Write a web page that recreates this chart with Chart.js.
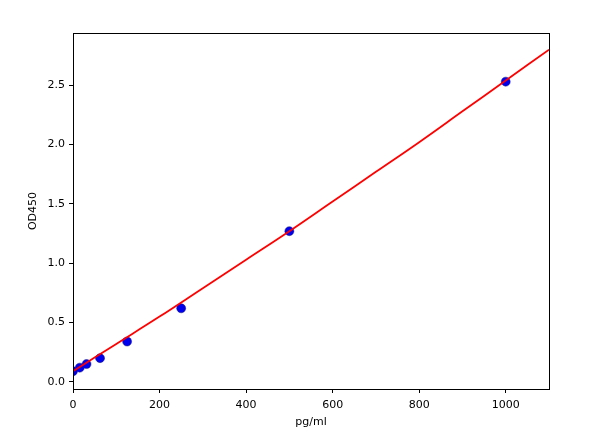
<!DOCTYPE html>
<html>
<head>
<meta charset="utf-8">
<script src="https://cdn.jsdelivr.net/npm/chart.js@4"></script>
<style>
  html, body { margin: 0; padding: 0; background: #fff; }
  #wrap { width: 600px; height: 442px; }
</style>
</head>
<body>
<div id="wrap"><canvas id="chart"></canvas></div>
<script>
// standards (pg/ml) and measured OD450
const conc = [0, 15.6, 31.25, 62.5, 125, 250, 500, 1000];
const od = [0.09, 0.12, 0.15, 0.20, 0.34, 0.62, 1.27, 2.53];

// fitted curve
const fitX = [0, 100, 200, 300, 400, 500, 600, 700, 800, 900, 1000, 1100];
const fitY = [0.09, 0.32, 0.55, 0.79, 1.03, 1.27, 1.52, 1.77, 2.02, 2.28, 2.54, 2.80];

const xTicks = [0, 200, 400, 600, 800, 1000];
const yTicks = [0, 0.5, 1.0, 1.5, 2.0, 2.5];

const FONT = { family: 'DejaVu Sans', size: 11 };

const frame = {
  id: 'frame',
  afterDraw(chart) {
    const a = chart.chartArea, c = chart.ctx;
    c.save();
    c.strokeStyle = '#000';
    c.lineWidth = 1;
    c.strokeRect(Math.round(a.left) + 0.5, Math.round(a.top) + 0.5,
      Math.round(a.right - a.left), Math.round(a.bottom - a.top));
    c.restore();
  },
};

new Chart(document.getElementById('chart').getContext('2d'), {
  data: {
    datasets: [
      {
        type: 'line',
        data: fitX.map((x, i) => ({ x, y: fitY[i] })),
        borderColor: '#ff0000',
        borderWidth: 1.8,
        pointRadius: 0,
        tension: 0.4,
        order: 0,
      },
      {
        type: 'scatter',
        data: conc.map((x, i) => ({ x, y: od[i] })),
        backgroundColor: '#0000ee',
        borderColor: '#1a1a80',
        borderWidth: 0.5,
        pointRadius: 4.5,
        order: 1,
      },
    ],
  },
  options: {
    responsive: true,
    maintainAspectRatio: false,
    animation: false,
    layout: { padding: { top: 33, right: 51, left: 27, bottom: 13 } },
    plugins: { legend: { display: false }, tooltip: { enabled: false } },
    scales: {
      x: {
        type: 'linear',
        min: 0,
        max: 1100,
        afterBuildTicks: (s) => { s.ticks = xTicks.map(v => ({ value: v })); },
        afterFit: (s) => { s.height = 40; },
        grid: { drawOnChartArea: false, drawTicks: true, tickLength: 4, color: '#000' },
        border: { color: '#000' },
        ticks: { color: '#000', font: FONT, padding: 6, maxRotation: 0, callback: (v) => String(v) },
        title: { display: true, text: 'pg/ml', color: '#000', font: FONT, padding: 0 },
      },
      y: {
        type: 'linear',
        min: -0.06,
        max: 2.94,
        afterBuildTicks: (s) => { s.ticks = yTicks.map(v => ({ value: v })); },
        afterFit: (s) => { s.width = 46; },
        grid: { drawOnChartArea: false, drawTicks: true, tickLength: 4, color: '#000' },
        border: { color: '#000' },
        ticks: { color: '#000', font: FONT, padding: 4, callback: (v) => v.toFixed(1) },
        title: { display: true, text: 'OD450', color: '#000', font: FONT, padding: 0 },
      },
    },
  },
  plugins: [frame],
});
</script>
</body>
</html>
